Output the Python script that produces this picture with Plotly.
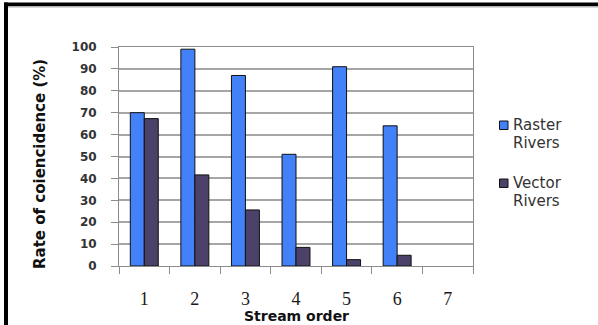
import plotly.graph_objects as go

# Stream order categories and coincidence rates (%)
stream_orders = ["1", "2", "3", "4", "5", "6", "7"]
raster_rivers = [70, 99, 87, 51, 91, 64, None]
vector_rivers = [67.3, 41.6, 25.6, 8.5, 2.9, 4.9, None]

series_names = ["Raster Rivers", "Vector Rivers"]
series_colors = ["#4281f7", "#4c4269"]

W, H = 598, 325
L, R, T, B = 119, 125, 47, 59
PW, PH = W - L - R, H - T - B


def px_x(px):
    return (px - L) / PW


def px_y(py):
    return (H - B - py) / PH


fig = go.Figure()
for name, vals, col in zip(series_names, [raster_rivers, vector_rivers], series_colors):
    fig.add_trace(go.Bar(
        x=stream_orders, y=vals, name=name,
        marker=dict(color=col, line=dict(color="#111111", width=1)),
        showlegend=False,
    ))

grid_col = "#a6a6a6"
axis_col = "#8c8c8c"

fig.update_layout(
    width=W, height=H,
    margin=dict(l=L, r=R, t=T, b=B, pad=0),
    paper_bgcolor="white", plot_bgcolor="white",
    barmode="group", bargap=0.447, bargroupgap=0,
    xaxis=dict(
        type="category", range=[-0.5, 6.5],
        tickson="boundaries", ticks="outside", ticklen=7, tickcolor=axis_col,
        tickwidth=1, showgrid=False, showline=True, linecolor=axis_col,
        linewidth=1, mirror=True, ticklabelstandoff=16,
        tickfont=dict(family="Liberation Serif", size=18, color="#1a1a1a"),
    ),
    yaxis=dict(
        range=[0, 100], dtick=10, ticks="outside", ticklen=7,
        tickcolor=axis_col, tickwidth=1, showgrid=True, gridcolor=grid_col,
        gridwidth=1.5, showline=True, linecolor=axis_col, linewidth=1,
        mirror=True, zeroline=False, ticklabelstandoff=12,
        tickfont=dict(family="DejaVu Sans", size=12, color="#333333", weight="bold"),
    ),
)

# Axis titles
fig.add_annotation(
    text="Rate of coiencidence (%)", textangle=-90,
    xref="paper", yref="paper", x=px_x(40), y=px_y(164),
    xanchor="center", yanchor="middle", showarrow=False,
    font=dict(family="DejaVu Sans", size=15, color="#111111", weight="bold"),
)
fig.add_annotation(
    text="Stream order",
    xref="paper", yref="paper", x=px_x(296), y=px_y(316),
    xanchor="center", yanchor="middle", showarrow=False,
    font=dict(family="DejaVu Sans", size=14, color="#111111", weight="bold"),
)

# Legend: colored squares with labels wrapped onto two lines
legend_rows = [125, 183]
line_step = 17.5
for name, col, cy in zip(series_names, series_colors, legend_rows):
    fig.add_shape(
        type="rect", xref="paper", yref="paper",
        x0=px_x(499.5), x1=px_x(508), y0=px_y(cy + 4.5), y1=px_y(cy - 4),
        fillcolor=col, line=dict(color="#111111", width=1),
    )
    for k, word in enumerate(name.split(" ")):
        fig.add_annotation(
            text=word, xref="paper", yref="paper",
            x=px_x(511), y=px_y(cy + k * line_step), xanchor="left",
            yanchor="middle", align="left", showarrow=False,
            font=dict(family="DejaVu Sans", size=15, color="#333333"),
        )

# Frame: black top and left edges with a faint shadow
fig.add_shape(type="rect", xref="paper", yref="paper",
              x0=px_x(4), x1=px_x(600), y0=px_y(6), y1=px_y(2.5),
              fillcolor="black", line=dict(width=0), layer="above")
fig.add_shape(type="rect", xref="paper", yref="paper",
              x0=px_x(8), x1=px_x(600), y0=px_y(7.5), y1=px_y(6),
              fillcolor="#b0b0b0", line=dict(width=0), layer="above")
fig.add_shape(type="rect", xref="paper", yref="paper",
              x0=px_x(4), x1=px_x(8), y0=px_y(330), y1=px_y(2.5),
              fillcolor="black", line=dict(width=0), layer="above")

fig.write_html("out.html")
